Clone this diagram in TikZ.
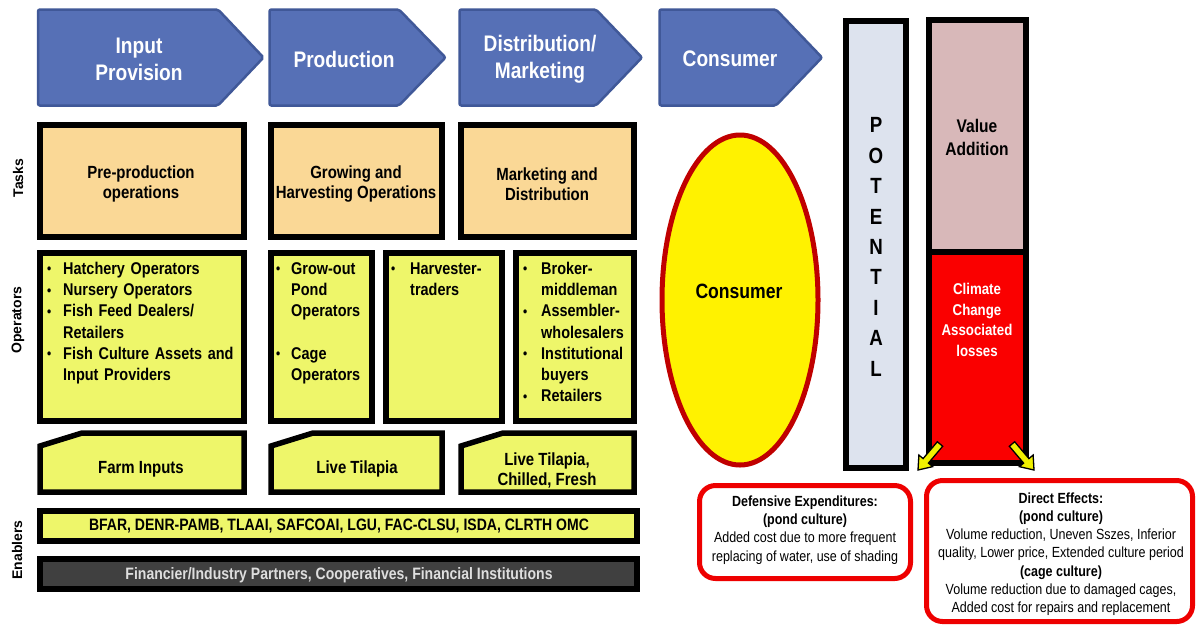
\documentclass[tikz,border=0pt]{standalone}
\usepackage{fontspec}
\setmainfont{Liberation Sans}[FakeStretch=0.85]
\newfontfamily\sidefont{Liberation Sans}
\usetikzlibrary{calc}
\definecolor{chevblue}{RGB}{86,112,182}
\definecolor{chevedge}{RGB}{64,88,152}
\definecolor{taskfill}{RGB}{250,216,150}
\definecolor{opfill}{RGB}{238,246,106}
\definecolor{darkbar}{RGB}{64,64,64}
\definecolor{bartext}{RGB}{222,222,222}
\definecolor{potfill}{RGB}{221,227,238}
\definecolor{valfill}{RGB}{216,184,185}
\definecolor{lossred}{RGB}{250,0,0}
\definecolor{ellred}{RGB}{192,0,0}
\definecolor{boxred}{RGB}{238,0,0}
\definecolor{arrowyellow}{RGB}{240,240,0}
\newcommand{\fsz}[2]{\fontsize{#1}{#2}\selectfont}
\newcommand{\bitem}[2]{\par\noindent\hangindent=#1\hangafter=1\makebox[#1][l]{\raisebox{0.5pt}{\fsz{14}{14}\textbullet}}\ignorespaces #2}
\newcommand{\fatarrow}[2]{%
  \coordinate (hb) at ($(#2)!12pt!(#1)$);
  \filldraw[fill=arrowyellow, draw=black, line width=1.3pt, line join=miter]
    ($(#1)!3.5pt!90:(#2)$) -- ($(hb)!3.5pt!-90:(#1)$) -- ($(hb)!9pt!-90:(#1)$) -- (#2)
    -- ($(hb)!9pt!90:(#1)$) -- ($(hb)!3.5pt!90:(#1)$) -- ($(#1)!3.5pt!-90:(#2)$) -- cycle;}
\tikzset{
  chev/.style={fill=chevblue, draw=chevedge, line width=2.5pt, rounded corners=2pt},
  chevtxt/.style={text=white, font=\bfseries\fsz{22.5}{27}, align=center, inner sep=0pt},
  taskbox/.style={fill=taskfill, draw=black, line width=6.5pt},
  opbox/.style={fill=opfill, draw=black, line width=6pt},
  darkbox/.style={fill=darkbar, draw=black, line width=6pt},
  tasktxt/.style={font=\bfseries\fsz{17.6}{20}, align=center, inner sep=0pt},
  optxt/.style={font=\bfseries\fsz{17}{21.2}, align=left, anchor=north west, inner sep=0pt},
  sidetxt/.style={font=\sidefont\bfseries\fsz{14}{16}, rotate=90, inner sep=0pt},
  redbox/.style={fill=white, draw=boxred, line width=5pt, rounded corners=16pt},
  efftxt/.style={font=\fsz{14.7}{18.2}, align=center, inner sep=0pt}
}
\begin{document}
\begin{tikzpicture}[x=1pt,y=-1pt]
\useasboundingbox[fill=white] (0,0) rectangle (1196,625);

% chevrons
\draw[chev] (38,9.5) -- (218,9.5) -- (263.5,57.5) -- (218,105.5) -- (38,105.5) -- cycle;
\draw[chev] (269.5,9.5) -- (399,9.5) -- (445.5,57.5) -- (399,105.5) -- (269.5,105.5) -- cycle;
\draw[chev] (459.5,9.5) -- (596,9.5) -- (642,57.5) -- (596,105.5) -- (459.5,105.5) -- cycle;
\draw[chev] (659.5,9.5) -- (776,9.5) -- (822,57.5) -- (776,105.5) -- (659.5,105.5) -- cycle;
\node[chevtxt] (cinput) at (139,59) {Input\\Provision};
\node[chevtxt] (cprod) at (344,59) {Production};
\node[chevtxt] (cdist) at (540,59) {Distribution/\\Marketing};
\node[chevtxt] (ccons) at (730,59) {Consumer};

% side labels
\node[sidetxt] (ltasks) at (18,178) {Tasks};
\node[sidetxt] (lops) at (18,320) {Operators};
\node[sidetxt] (lenab) at (17,550) {Enablers};

% tasks
\draw[taskbox] (40,125) rectangle (244,237);
\draw[taskbox] (271,125) rectangle (442,237);
\draw[taskbox] (461,125) rectangle (634,237);
\node[tasktxt] (t1) at (141,184) {Pre-production\\operations};
\node[tasktxt] (t2) at (356,184) {Growing and\\Harvesting Operations};
\node[tasktxt] (t3) at (547,184) {Marketing and\\Distribution};

% operators
\draw[opbox] (40,253) rectangle (244,421);
\draw[opbox] (271,253) rectangle (372,421);
\draw[opbox] (386,253) rectangle (502,421);
\draw[opbox] (516,253) rectangle (634,421);
\node[optxt, text width=200pt] (o1) at (47,253) {%
  \bitem{16pt}{Hatchery Operators}
  \bitem{16pt}{Nursery Operators}
  \bitem{16pt}{Fish Feed Dealers/\newline Retailers}
  \bitem{16pt}{Fish Culture Assets and\newline Input Providers}\par};
\node[optxt, text width=100pt] (o2) at (276,253) {%
  \bitem{15pt}{Grow-out\newline Pond\newline Operators}\par\vskip21pt
  \bitem{15pt}{Cage\newline Operators}\par};
\node[optxt, text width=110pt] (o3) at (391,253) {%
  \bitem{19pt}{Harvester-\newline traders}\par};
\node[optxt, text width=120pt] (o4) at (523,253) {%
  \bitem{18pt}{Broker-\newline middleman}
  \bitem{18pt}{Assembler-\newline wholesalers}
  \bitem{18pt}{Institutional\newline buyers}
  \bitem{18pt}{Retailers}\par};

% products
\draw[opbox, line width=5.5pt] (40,446) -- (82,433) -- (244,433) -- (244,492) -- (40,492) -- cycle;
\draw[opbox, line width=5.5pt] (271,446) -- (313,433) -- (442,433) -- (442,492) -- (271,492) -- cycle;
\draw[opbox, line width=5.5pt] (461,446) -- (503,433) -- (634,433) -- (634,492) -- (461,492) -- cycle;
\node[tasktxt] (p1) at (141,469) {Farm Inputs};
\node[tasktxt] (p2) at (357,469) {Live Tilapia};
\node[tasktxt] (p3) at (547,470) {Live Tilapia,\\Chilled, Fresh};

% enablers
\draw[opbox] (40,511) rectangle (637,541);
\draw[darkbox] (40,559) rectangle (637,589);
\node[font=\bfseries\fsz{16.5}{20}, inner sep=0pt] (e1) at (339,526) {BFAR, DENR-PAMB, TLAAI, SAFCOAI, LGU, FAC-CLSU, ISDA, CLRTH OMC};
\node[font=\bfseries\fsz{16.5}{20}, text=bartext, inner sep=0pt] (e2) at (339,575) {Financier/Industry Partners, Cooperatives, Financial Institutions};

% consumer ellipse
\draw[fill=yellow, draw=ellred, line width=5pt] (740,300) ellipse [x radius=78, y radius=165];
\node[font=\bfseries\fsz{20.7}{24}, inner sep=0pt] (econs) at (739,291) {Consumer};

% potential bar
\draw[fill=potfill, draw=black, line width=6pt] (846,21) rectangle (906,468);
\node[font=\bfseries\fsz{22}{30.4}, align=center, inner sep=0pt] (pot) at (876,247) {P\\O\\T\\E\\N\\T\\I\\A\\L};

% value / losses bar
\fill[valfill] (929,20) rectangle (1026,252);
\fill[lossred] (929,252) rectangle (1026,463);
\draw[black, line width=6pt] (929,20) rectangle (1026,463);
\draw[black, line width=6pt] (929,252) -- (1026,252);
\node[font=\bfseries\fsz{18.3}{23}, align=center, inner sep=0pt] (val) at (977,137) {Value\\Addition};
\node[font=\bfseries\fsz{15.6}{20.5}, text=white, align=center, inner sep=0pt] (loss) at (977,320) {Climate\\Change\\Associated\\losses};

% effect boxes
\draw[redbox] (699.5,485.5) rectangle (910.5,578.5);
\draw[redbox] (926.5,480.5) rectangle (1192.5,621.5);
\node[efftxt] (def) at (805,530) {\textbf{Defensive Expenditures:}\\\textbf{(pond culture)}\\Added cost due to more frequent\\replacing of water, use of shading};
\node[efftxt] (dir) at (1061,554) {\textbf{Direct Effects:}\\\textbf{(pond culture)}\\Volume reduction, Uneven Sszes, Inferior\\quality, Lower price, Extended culture period\\\textbf{(cage culture)}\\Volume reduction due to damaged cages,\\Added cost for repairs and replacement};

% yellow arrows
\coordinate (a1t) at (940,444);
\coordinate (a1h) at (918,470);
\coordinate (a2t) at (1012,444);
\coordinate (a2h) at (1034,470);
\fatarrow{a1t}{a1h}
\fatarrow{a2t}{a2h}
\end{tikzpicture}
\end{document}
